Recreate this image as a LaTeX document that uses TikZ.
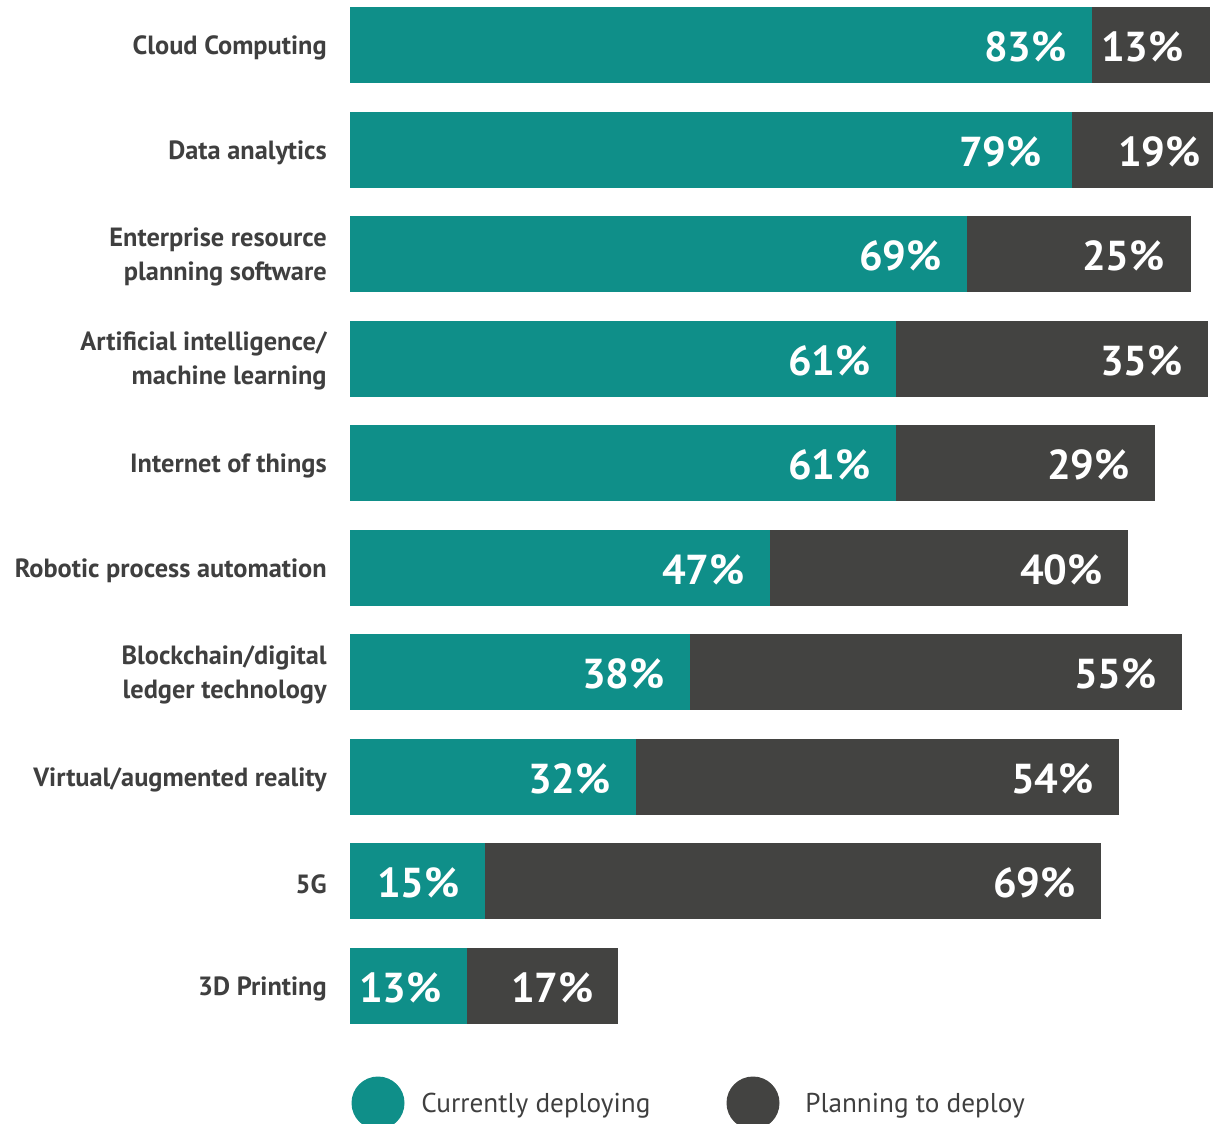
\documentclass[tikz,border=0pt]{standalone}
\usepackage{fontspec}
\setmainfont{PT Sans}
\usepackage{xcolor}
\usetikzlibrary{positioning}
\definecolor{deploy}{HTML}{0F8F89}
\definecolor{plan}{HTML}{434341}
\definecolor{labeltext}{HTML}{3F3F3F}
\tikzset{
  rowlabel/.style={anchor=east, align=right, inner sep=0pt, text=labeltext, font=\bfseries\fontsize{15}{19.8}\selectfont},
  pct/.style={anchor=east, inner sep=0pt, text=white, font=\bfseries\fontsize{23.8}{26}\selectfont},
  legendtext/.style={anchor=west, inner sep=0pt, text=labeltext, font=\fontsize{15.5}{18}\selectfont},
}
\begin{document}
\begin{tikzpicture}[x=0.02cm, y=-0.02cm]
		\useasboundingbox (0,0) rectangle (1213,1124);
		% bars: teal = currently deploying, grey = planning to deploy
		\fill [deploy] (350,7) rectangle (1092,83);
		\fill [plan] (1092,7) rectangle (1210,83);
		\fill [deploy] (350,112) rectangle (1072,188);
		\fill [plan] (1072,112) rectangle (1213,188);
		\fill [deploy] (350,216) rectangle (967,292);
		\fill [plan] (967,216) rectangle (1191,292);
		\fill [deploy] (350,321) rectangle (896,397);
		\fill [plan] (896,321) rectangle (1208,397);
		\fill [deploy] (350,425) rectangle (896,501);
		\fill [plan] (896,425) rectangle (1155,501);
		\fill [deploy] (350,530) rectangle (770,606);
		\fill [plan] (770,530) rectangle (1128,606);
		\fill [deploy] (350,634) rectangle (690,710);
		\fill [plan] (690,634) rectangle (1182,710);
		\fill [deploy] (350,739) rectangle (636,815);
		\fill [plan] (636,739) rectangle (1119,815);
		\fill [deploy] (350,843) rectangle (485,919);
		\fill [plan] (485,843) rectangle (1101,919);
		\fill [deploy] (350,948) rectangle (467,1024);
		\fill [plan] (467,948) rectangle (618,1024);
		% row labels
		\node [rowlabel] (cloud) at (327,48) {Cloud Computing};
		\node [rowlabel] (data) at (327,153) {Data analytics};
		\node [rowlabel] (erp) at (327,257) {Enterprise resource\\planning software};
		\node [rowlabel] (ai) at (327,361) {Artificial intelligence/\\machine learning};
		\node [rowlabel] (iot) at (327,466) {Internet of things};
		\node [rowlabel] (rpa) at (327,571) {Robotic process automation};
		\node [rowlabel] (chain) at (327,675) {Blockchain/digital\\ledger technology};
		\node [rowlabel] (vr) at (327,780) {Virtual/augmented reality};
		\node [rowlabel] (fiveg) at (327,884) {5G};
		\node [rowlabel] (print) at (327,989) {3D Printing};
		% percentages
		\node [pct] (cloudA) at (1067,47) {83\%};
		\node [pct] (cloudB) at (1184,47) {13\%};
		\node [pct] (dataA) at (1042,152) {79\%};
		\node [pct] (dataB) at (1201,152) {19\%};
		\node [pct] (erpA) at (942,256) {69\%};
		\node [pct] (erpB) at (1165,256) {25\%};
		\node [pct] (aiA) at (871,361) {61\%};
		\node [pct] (aiB) at (1183,361) {35\%};
		\node [pct] (iotA) at (871,465) {61\%};
		\node [pct] (iotB) at (1130,465) {29\%};
		\node [pct] (rpaA) at (745,570) {47\%};
		\node [pct] (rpaB) at (1103,570) {40\%};
		\node [pct] (chainA) at (665,674) {38\%};
		\node [pct] (chainB) at (1157,674) {55\%};
		\node [pct] (vrA) at (611,779) {32\%};
		\node [pct] (vrB) at (1094,779) {54\%};
		\node [pct] (fivegA) at (460,883) {15\%};
		\node [pct] (fivegB) at (1076,883) {69\%};
		\node [pct] (printA) at (442,988) {13\%};
		\node [pct] (printB) at (594,988) {17\%};
		% legend
		\fill [deploy] (378,1103) circle (26.5);
		\node [legendtext] (now) at (421,1106) {Currently deploying};
		\fill [plan] (753,1103) circle (26.5);
		\node [legendtext] (later) at (805,1106) {Planning to deploy};
	\end{tikzpicture}
\end{document}
